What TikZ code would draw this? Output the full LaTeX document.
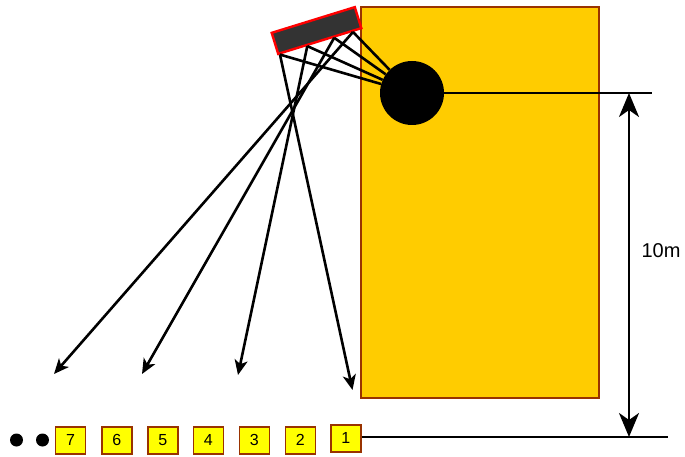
\documentclass[tikz,border=0pt]{standalone}
\usepackage{fontspec}
\setmainfont{Liberation Sans}
\usetikzlibrary{arrows.meta,calc}
\definecolor{bldg}{HTML}{FFCC00}
\definecolor{bldgedge}{HTML}{993300}
\definecolor{boxfill}{HTML}{FFFF00}
\definecolor{panel}{HTML}{333333}
\tikzset{
  ray/.style={line width=2.6pt, -{Stealth[length=15pt,width=13pt,inset=4pt]}},
  beam/.style={line width=2.6pt},
  dimline/.style={line width=2.4pt},
  dimarrow/.style={line width=2.6pt, {Stealth[length=24pt,width=20pt,inset=7pt]}-{Stealth[length=24pt,width=20pt,inset=7pt]}},
  numbox/.style={draw=bldgedge, fill=boxfill, line width=1.6pt, minimum width=30pt, minimum height=27pt, inner sep=0pt, font=\fontsize{16}{16}\selectfont},
  dot/.style={circle, fill=black, minimum size=13pt, inner sep=0pt}
}
\begin{document}
\begin{tikzpicture}[x=1pt,y=-1pt]
\useasboundingbox (0,0) rectangle (685,457);
% building
\node[draw=bldgedge, fill=bldg, line width=1.8pt, minimum width=238pt, minimum height=391pt, inner sep=0pt, anchor=north west] (bldg) at (360,6) {};
% circle
\node[circle, fill=black, minimum size=64pt, inner sep=0pt] (c) at (412,93) {};
% panel
\node[draw=red, fill=panel, line width=2.4pt, rotate=17.2, minimum width=87pt, minimum height=22pt, inner sep=0pt] (p) at (316.5,30.5) {};
\coordinate (s1) at ($(p.south west)!0.03!(p.south east)$);
\coordinate (s2) at ($(p.south west)!0.35!(p.south east)$);
\coordinate (s3) at ($(p.south west)!0.665!(p.south east)$);
\coordinate (s4) at ($(p.south west)!0.885!(p.south east)$);
% beams to circle
\foreach \s in {s1,s2,s3,s4} \draw[beam] (\s) -- (c);
% rays
\coordinate (t1) at (352.5,390);
\coordinate (t2) at (238,375);
\coordinate (t3) at (142,374);
\coordinate (t4) at (54,374);
\draw[ray] (s1) -- (t1);
\draw[ray] (s2) -- (t2);
\draw[ray] (s3) -- (t3);
\draw[ray] (s4) -- (t4);
% boxes
\node[numbox] (b1) at (345.8,438.3) {1};
\node[numbox] (b2) at (300.3,440.3) {2};
\node[numbox] (b3) at (254.3,440.3) {3};
\node[numbox] (b4) at (208.3,440.3) {4};
\node[numbox] (b5) at (162.7,440.3) {5};
\node[numbox] (b6) at (116.7,440.3) {6};
\node[numbox] (b7) at (70.5,440.3) {7};
\node[dot] (dA) at (16.5,440) {};
\node[dot] (dB) at (42.5,440) {};
% reference lines
\coordinate (h1) at (652,93);
\coordinate (h2) at (668,437);
\draw[dimline] (c.east) -- (h1);
\draw[dimline] (b1.east |- h2) -- (h2);
\coordinate (d1) at (629,93);
\coordinate (d2) at (629,437);
\draw[dimarrow] (d1) -- (d2);
\node[font=\fontsize{20}{20}\selectfont] (lbl) at (661,251) {10m};
\end{tikzpicture}
\end{document}
